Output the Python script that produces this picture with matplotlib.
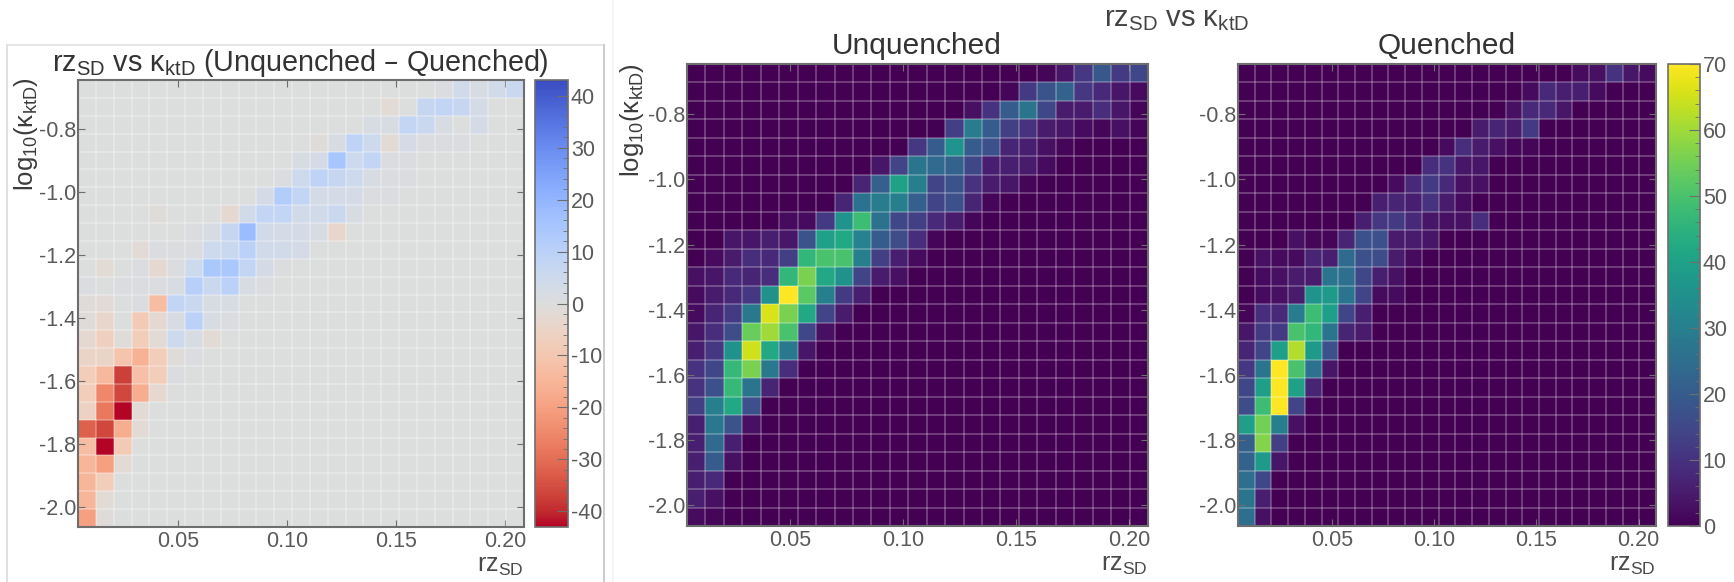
import numpy as np
import matplotlib
matplotlib.use('Agg')
from matplotlib import pyplot as plt
from matplotlib.lines import Line2D

plt.rcParams['font.family'] = ['Liberation Sans', 'DejaVu Sans']
plt.rcParams['mathtext.default'] = 'regular'
plt.rcParams['axes.unicode_minus'] = False

x_ticks = [0.05, 0.10, 0.15, 0.20]
y_ticks = [-2.0, -1.8, -1.6, -1.4, -1.2, -1.0, -0.8]
x_tick_labels = ['0.05', '0.10', '0.15', '0.20']
y_tick_labels = ['-2.0', '-1.8', '-1.6', '-1.4', '-1.2', '-1.0', '-0.8']
diff_ticks = [-40, -30, -20, -10, 0, 10, 20, 30, 40]
count_ticks = [0, 10, 20, 30, 40, 50, 60, 70]

# rows go from the top of the plot down, columns from small rz to large
unquenched = [
    [0, 0, 0, 0, 0, 0, 0, 0, 0, 0, 0, 0, 0, 0, 0, 0, 0, 0, 0, 1, 4, 11, 19, 12, 15],
    [0, 0, 0, 0, 0, 0, 0, 0, 0, 0, 0, 0, 0, 0, 0, 0, 0, 1, 12, 18, 22, 11, 8, 4, 2],
    [0, 0, 0, 0, 0, 0, 0, 0, 0, 0, 0, 0, 0, 0, 0, 3, 10, 20, 27, 15, 5, 5, 9, 4, 1],
    [0, 0, 0, 0, 0, 0, 0, 0, 0, 0, 0, 0, 0, 0, 13, 29, 20, 13, 10, 5, 4, 2, 1, 3, 1],
    [0, 0, 0, 0, 0, 0, 0, 0, 0, 0, 0, 0, 11, 20, 36, 20, 17, 7, 6, 3, 1, 0, 0, 0, 0],
    [0, 0, 0, 0, 0, 0, 0, 0, 0, 0, 4, 14, 27, 24, 22, 15, 6, 6, 5, 2, 0, 0, 0, 0, 0],
    [0, 0, 0, 0, 0, 0, 0, 0, 0, 7, 21, 40, 30, 14, 18, 10, 5, 4, 1, 0, 0, 0, 0, 0, 0],
    [0, 0, 0, 0, 0, 0, 0, 0, 7, 26, 29, 30, 21, 14, 17, 7, 1, 0, 0, 0, 0, 0, 0, 0, 0],
    [0, 0, 0, 0, 0, 2, 2, 12, 36, 48, 26, 15, 13, 8, 5, 1, 0, 0, 0, 0, 0, 0, 0, 0, 0],
    [0, 0, 4, 4, 6, 4, 18, 40, 42, 31, 20, 16, 9, 1, 0, 0, 0, 0, 0, 0, 0, 0, 0, 0, 0],
    [0, 2, 5, 9, 8, 13, 46, 50, 50, 30, 13, 6, 2, 0, 0, 0, 0, 0, 0, 0, 0, 0, 0, 0, 0],
    [3, 4, 8, 7, 9, 46, 56, 42, 35, 14, 5, 3, 0, 0, 0, 0, 0, 0, 0, 0, 0, 0, 0, 0, 0],
    [2, 5, 8, 11, 35, 70, 52, 30, 12, 6, 0, 0, 0, 0, 0, 0, 0, 0, 0, 0, 0, 0, 0, 0, 0],
    [2, 7, 12, 28, 66, 56, 42, 14, 5, 0, 0, 0, 0, 0, 0, 0, 0, 0, 0, 0, 0, 0, 0, 0, 0],
    [4, 9, 16, 54, 60, 50, 15, 3, 0, 0, 0, 0, 0, 0, 0, 0, 0, 0, 0, 0, 0, 0, 0, 0, 0],
    [6, 11, 35, 65, 42, 28, 4, 0, 0, 0, 0, 0, 0, 0, 0, 0, 0, 0, 0, 0, 0, 0, 0, 0, 0],
    [10, 15, 47, 56, 28, 9, 0, 0, 0, 0, 0, 0, 0, 0, 0, 0, 0, 0, 0, 0, 0, 0, 0, 0, 0],
    [10, 17, 47, 27, 7, 0, 0, 0, 0, 0, 0, 0, 0, 0, 0, 0, 0, 0, 0, 0, 0, 0, 0, 0, 0],
    [13, 30, 42, 17, 0, 0, 0, 0, 0, 0, 0, 0, 0, 0, 0, 0, 0, 0, 0, 0, 0, 0, 0, 0, 0],
    [6, 28, 18, 3, 0, 0, 0, 0, 0, 0, 0, 0, 0, 0, 0, 0, 0, 0, 0, 0, 0, 0, 0, 0, 0],
    [6, 24, 6, 0, 0, 0, 0, 0, 0, 0, 0, 0, 0, 0, 0, 0, 0, 0, 0, 0, 0, 0, 0, 0, 0],
    [6, 20, 3, 0, 0, 0, 0, 0, 0, 0, 0, 0, 0, 0, 0, 0, 0, 0, 0, 0, 0, 0, 0, 0, 0],
    [6, 8, 0, 0, 0, 0, 0, 0, 0, 0, 0, 0, 0, 0, 0, 0, 0, 0, 0, 0, 0, 0, 0, 0, 0],
    [6, 3, 0, 0, 0, 0, 0, 0, 0, 0, 0, 0, 0, 0, 0, 0, 0, 0, 0, 0, 0, 0, 0, 0, 0],
    [2, 1, 0, 0, 0, 0, 0, 0, 0, 0, 0, 0, 0, 0, 0, 0, 0, 0, 0, 0, 0, 0, 0, 0, 0],
]

quenched = [
    [0, 0, 0, 0, 0, 0, 0, 0, 0, 0, 0, 0, 0, 0, 0, 0, 0, 0, 0, 0, 2, 3, 10, 4, 2],
    [0, 0, 0, 0, 0, 0, 0, 0, 0, 0, 0, 0, 0, 0, 0, 0, 0, 2, 8, 6, 6, 2, 0, 0, 0],
    [0, 0, 0, 0, 0, 0, 0, 0, 0, 0, 0, 0, 0, 0, 0, 0, 3, 8, 8, 4, 0, 0, 0, 0, 0],
    [0, 0, 0, 0, 0, 0, 0, 0, 0, 0, 0, 0, 0, 0, 5, 7, 5, 12, 0, 0, 0, 0, 0, 0, 0],
    [0, 0, 0, 0, 0, 0, 0, 0, 0, 0, 0, 0, 2, 9, 5, 3, 1, 1, 0, 0, 0, 0, 0, 0, 0],
    [0, 0, 0, 0, 0, 0, 0, 0, 0, 0, 0, 9, 10, 4, 4, 0, 0, 0, 0, 0, 0, 0, 0, 0, 0],
    [0, 0, 0, 0, 0, 0, 0, 0, 0, 2, 8, 12, 8, 3, 3, 0, 0, 0, 0, 0, 0, 0, 0, 0, 0],
    [0, 0, 0, 0, 0, 0, 0, 0, 6, 7, 6, 10, 5, 2, 0, 0, 0, 0, 0, 0, 0, 0, 0, 0, 0],
    [0, 0, 0, 0, 0, 0, 0, 6, 11, 12, 8, 4, 3, 3, 9, 0, 0, 0, 0, 0, 0, 0, 0, 0, 0],
    [0, 0, 0, 3, 1, 1, 7, 17, 17, 5, 5, 4, 0, 0, 0, 0, 0, 0, 0, 0, 0, 0, 0, 0, 0],
    [0, 3, 2, 2, 7, 6, 24, 17, 16, 5, 2, 0, 0, 0, 0, 0, 0, 0, 0, 0, 0, 0, 0, 0, 0],
    [0, 2, 3, 5, 5, 27, 25, 15, 6, 3, 0, 0, 0, 0, 0, 0, 0, 0, 0, 0, 0, 0, 0, 0, 0],
    [0, 2, 3, 5, 36, 38, 27, 14, 2, 2, 0, 0, 0, 0, 0, 0, 0, 0, 0, 0, 0, 0, 0, 0, 0],
    [1, 9, 8, 29, 48, 39, 14, 6, 0, 0, 0, 0, 0, 0, 0, 0, 0, 0, 0, 0, 0, 0, 0, 0, 0],
    [4, 12, 12, 50, 46, 27, 7, 5, 0, 0, 0, 0, 0, 0, 0, 0, 0, 0, 0, 0, 0, 0, 0, 0, 0],
    [7, 14, 39, 62, 38, 17, 0, 0, 0, 0, 0, 0, 0, 0, 0, 0, 0, 0, 0, 0, 0, 0, 0, 0, 0],
    [11, 27, 70, 50, 26, 4, 0, 0, 0, 0, 0, 0, 0, 0, 0, 0, 0, 0, 0, 0, 0, 0, 0, 0, 0],
    [15, 39, 70, 40, 7, 0, 0, 0, 0, 0, 0, 0, 0, 0, 0, 0, 0, 0, 0, 0, 0, 0, 0, 0, 0],
    [16, 48, 70, 14, 1, 0, 0, 0, 0, 0, 0, 0, 0, 0, 0, 0, 0, 0, 0, 0, 0, 0, 0, 0, 0],
    [39, 55, 30, 3, 0, 0, 0, 0, 0, 0, 0, 0, 0, 0, 0, 0, 0, 0, 0, 0, 0, 0, 0, 0, 0],
    [21, 57, 13, 0, 0, 0, 0, 0, 0, 0, 0, 0, 0, 0, 0, 0, 0, 0, 0, 0, 0, 0, 0, 0, 0],
    [22, 38, 4, 0, 0, 0, 0, 0, 0, 0, 0, 0, 0, 0, 0, 0, 0, 0, 0, 0, 0, 0, 0, 0, 0],
    [25, 15, 0, 0, 0, 0, 0, 0, 0, 0, 0, 0, 0, 0, 0, 0, 0, 0, 0, 0, 0, 0, 0, 0, 0],
    [27, 6, 0, 0, 0, 0, 0, 0, 0, 0, 0, 0, 0, 0, 0, 0, 0, 0, 0, 0, 0, 0, 0, 0, 0],
    [25, 3, 0, 0, 0, 0, 0, 0, 0, 0, 0, 0, 0, 0, 0, 0, 0, 0, 0, 0, 0, 0, 0, 0, 0],
]

difference = [
    [0, 0, 0, 0, 0, 0, 0, 0, 0, 0, 0, 0, 0, 0, 0, 0, 0, 0, 0, 0, 1, 4, 2, 4, 6],
    [0, 0, 0, 0, 0, 0, 0, 0, 0, 0, 0, 0, 0, 0, 0, 0, 0, -2, 0, 7, 8, 7, 3, 0, 0],
    [0, 0, 0, 0, 0, 0, 0, 0, 0, 0, 0, 0, 0, 0, 0, 0, 2, 2, 8, 6, 2, 0, 3, 0, 0],
    [0, 0, 0, 0, 0, 0, 0, 0, 0, 0, 0, 0, 0, -1, 2, 9, 5, -2, 3, 1, 1, 1, 0, 0, 0],
    [0, 0, 0, 0, 0, 0, 0, 0, 0, 0, 0, 0, 2, 3, 15, 5, 8, 1, 1, 0, 0, 0, 0, 0, 0],
    [0, 0, 0, 0, 0, 0, 0, 0, 0, 0, 0, 1, 5, 9, 7, 5, 2, 1, 1, 0, 0, 0, 0, 0, 0],
    [0, 0, 0, 0, 0, 0, 0, 0, 0, 0, 3, 12, 8, 3, 3, 3, 1, 1, 0, 0, 0, 0, 0, 0, 0],
    [0, 0, 0, 0, -1, 0, 0, 0, -3, 4, 8, 8, 4, 4, 6, 2, 0, 0, 0, 0, 0, 0, 0, 0, 0],
    [0, 0, 0, 0, 0, 0, 1, 2, 7, 18, 4, 3, 3, 2, -4, 0, 0, 0, 0, 0, 0, 0, 0, 0, 0],
    [0, 0, 0, -1.5, 1, 0.5, 1, 5, 6, 10, 4, 4, 3, 0, 0, 0, 0, 0, 0, 0, 0, 0, 0, 0, 0],
    [0, -2, 0, 1, -3, 1, 5, 14, 14, 8, 3, 0.5, 0, 0, 0, 0, 0, 0, 0, 0, 0, 0, 0, 0, 0],
    [1, 0, 1, 1, 1, 2, 11, 6, 10, 2, 1, 0, 0, 0, 0, 0, 0, 0, 0, 0, 0, 0, 0, 0, 0],
    [-1, -1.5, 0, 1, -13, 8, 6, 2, 2, 0, 0, 0, 0, 0, 0, 0, 0, 0, 0, 0, 0, 0, 0, 0, 0],
    [-1, -4, 0, -9, -3, 2, 10, 2, 1, 0, 0, 0, 0, 0, 0, 0, 0, 0, 0, 0, 0, 0, 0, 0, 0],
    [-3, -7, -1, -8, -2, 5, 2, -2, 0, 0, 0, 0, 0, 0, 0, 0, 0, 0, 0, 0, 0, 0, 0, 0, 0],
    [-5, -5, -11, -16, -8, -1, 1, 0, 0, 0, 0, 0, 0, 0, 0, 0, 0, 0, 0, 0, 0, 0, 0, 0, 0],
    [-8, -14, -37, -12, -8, 1, 0, 0, 0, 0, 0, 0, 0, 0, 0, 0, 0, 0, 0, 0, 0, 0, 0, 0, 0],
    [-8, -25, -36, -17, -3, 0, 0, 0, 0, 0, 0, 0, 0, 0, 0, 0, 0, 0, 0, 0, 0, 0, 0, 0, 0],
    [-6, -28, -43, -2, 0, 0, 0, 0, 0, 0, 0, 0, 0, 0, 0, 0, 0, 0, 0, 0, 0, 0, 0, 0, 0],
    [-32, -36, -17, -2, 0, 0, 0, 0, 0, 0, 0, 0, 0, 0, 0, 0, 0, 0, 0, 0, 0, 0, 0, 0, 0],
    [-13, -43, -9, 0, 0, 0, 0, 0, 0, 0, 0, 0, 0, 0, 0, 0, 0, 0, 0, 0, 0, 0, 0, 0, 0],
    [-15, -20, -2, 0, 0, 0, 0, 0, 0, 0, 0, 0, 0, 0, 0, 0, 0, 0, 0, 0, 0, 0, 0, 0, 0],
    [-15, -8, 0, 0, 0, 0, 0, 0, 0, 0, 0, 0, 0, 0, 0, 0, 0, 0, 0, 0, 0, 0, 0, 0, 0],
    [-15, -2, 0, 0, 0, 0, 0, 0, 0, 0, 0, 0, 0, 0, 0, 0, 0, 0, 0, 0, 0, 0, 0, 0, 0],
    [-20, -1, 0, 0, 0, 0, 0, 0, 0, 0, 0, 0, 0, 0, 0, 0, 0, 0, 0, 0, 0, 0, 0, 0, 0],
]

W, H = 1734, 582
TICK_GRAY = '#5a5a5a'
FRAME_GRAY = '#6e6e6e'
XLIM = (0.0042, 0.2085)
YLIM = (-2.065, -0.645)
X_LABEL = 'rz$_{SD}$'
Y_LABEL = 'log$_{10}$(κ$_{ktD}$)'


def px_axes(fig, x0, x1, y0, y1):
    """Оси по пиксельным координатам картинки (y считается сверху)."""
    return fig.add_axes([x0 / W, 1 - y1 / H, (x1 - x0) / W, (y1 - y0) / H])


def draw_panel(fig, box, values, cmap, vmin, vmax, grid_alpha, y_label_pos=None):
    ax = px_axes(fig, *box)
    rows = np.array(values, dtype=float)
    x_edges = np.linspace(XLIM[0], XLIM[1], rows.shape[1] + 1)
    y_edges = np.linspace(YLIM[1], YLIM[0], rows.shape[0] + 1)
    mesh = ax.pcolormesh(x_edges, y_edges, rows, cmap=cmap, vmin=vmin, vmax=vmax)
    ax.vlines(x_edges[1:-1], YLIM[0], YLIM[1], color='white', alpha=grid_alpha, lw=1.2)
    ax.hlines(y_edges[1:-1], XLIM[0], XLIM[1], color='white', alpha=grid_alpha, lw=1.2)
    ax.set_xlim(XLIM)
    ax.set_ylim(YLIM)
    ax.set_xticks(x_ticks, x_tick_labels)
    ax.set_yticks(y_ticks, y_tick_labels)
    ax.tick_params(direction='in', length=5, width=0.8, color=FRAME_GRAY, top=True, right=True,
                   labelsize=15.5, labelcolor=TICK_GRAY, pad=3)
    ax.tick_params(axis='y', pad=1.5)
    for spine in ax.spines.values():
        spine.set_color(FRAME_GRAY)
        spine.set_linewidth(1.5)
    fig.text((box[1] - 1) / W, 1 - (box[3] + 39) / H, X_LABEL, ha='right', va='center',
             fontsize=18, color='#4a4a4a')
    if y_label_pos:
        fig.text(y_label_pos[0] / W, 1 - y_label_pos[1] / H, Y_LABEL, ha='center', va='center',
                 rotation=90, fontsize=18.5, color='#3c3c3c')
    return mesh


def draw_colorbar(fig, mesh, box, ticks, minor_step):
    cax = px_axes(fig, *box)
    cbar = fig.colorbar(mesh, cax=cax)
    cbar.set_ticks(ticks)
    cbar.ax.set_yticks(np.arange(ticks[0], ticks[-1] + 0.1, minor_step), minor=True)
    cbar.ax.tick_params(which='major', direction='in', length=8, width=0.8, color=FRAME_GRAY,
                        labelsize=15.5, labelcolor=TICK_GRAY, pad=2)
    cbar.ax.tick_params(which='minor', direction='in', length=3.5, width=0.6, color=FRAME_GRAY)
    cbar.outline.set_edgecolor(FRAME_GRAY)
    cbar.outline.set_linewidth(1.2)


fig = plt.figure(figsize=(W / 100, H / 100), dpi=100)

# рамка вокруг левого графика
for xs, ys, color in [((7, 7), (582, 45), '#dddddd'), ((7, 604), (45, 45), '#e4e4e4'),
                      ((604, 604), (45, 582), '#c8c8c8'), ((613, 613), (0, 582), '#f3f3f3')]:
    fig.add_artist(Line2D([x / W for x in xs], [1 - y / H for y in ys], color=color, lw=1.3))

diff_mesh = draw_panel(fig, (78, 524, 80, 527), difference, 'coolwarm_r', -43, 43, 0.3, (26, 134))
draw_colorbar(fig, diff_mesh, (535, 568, 80, 527), diff_ticks, 2)
fig.text(300 / W, 1 - 63 / H, 'rz$_{SD}$ vs κ$_{ktD}$ (Unquenched – Quenched)', ha='center', va='center',
         fontsize=20.7, color='#333333')

draw_panel(fig, (687, 1148, 64, 526), unquenched, 'viridis', 0, 70, 0.28, (632, 120))
fig.text(917 / W, 1 - 46 / H, 'Unquenched', ha='center', va='center', fontsize=21.5, color='#333333')

count_mesh = draw_panel(fig, (1238, 1656, 64, 526), quenched, 'viridis', 0, 70, 0.28)
fig.text(1447 / W, 1 - 46 / H, 'Quenched', ha='center', va='center', fontsize=21.5, color='#333333')
draw_colorbar(fig, count_mesh, (1668, 1700, 64, 526), count_ticks, 2)

fig.text(1177 / W, 1 - 19 / H, 'rz$_{SD}$ vs κ$_{ktD}$', ha='center', va='center', fontsize=21,
         color='#444444')

fig.savefig('out.png', dpi=100)
